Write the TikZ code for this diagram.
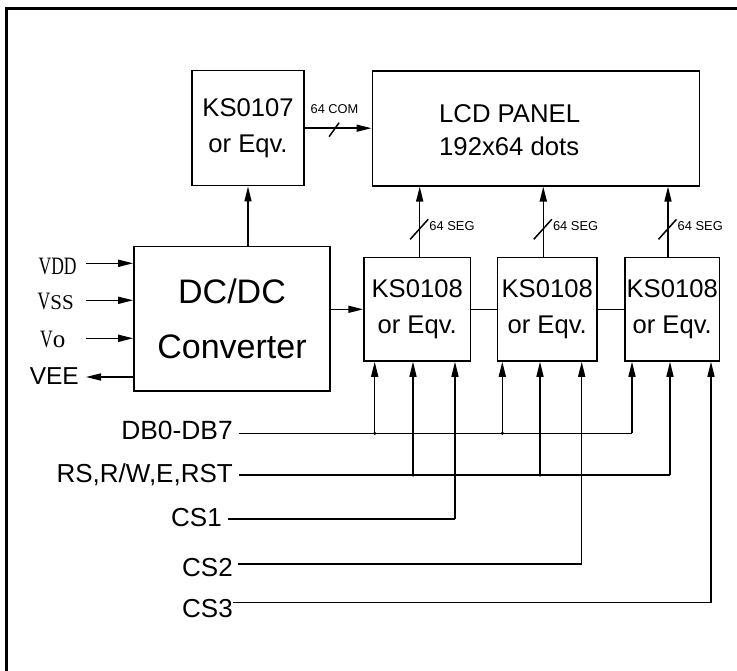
\documentclass[tikz,border=0pt]{standalone}
\usepackage{fontspec}
\setmainfont{Liberation Sans}
\newfontfamily\simfont[FakeStretch=0.7]{Liberation Serif}
\newfontfamily\sernorm{Liberation Serif}
\usetikzlibrary{arrows.meta,calc}
\newcommand\myfs[2]{\fontsize{#1}{#2}\selectfont}
\begin{document}
\begin{tikzpicture}[x=1pt,y=-1pt,
  blk/.style={draw,line width=1.6pt,inner sep=0pt,align=center},
  con/.style={line width=1.5pt},
  arr/.style={line width=1.5pt,-{Triangle[length=15pt,width=7pt]}},
  lbl/.style={inner sep=0pt},
  dot/.style={circle,fill,inner sep=0pt,minimum size=3.5pt}]
\useasboundingbox (0,0) rectangle (737,671);
\begin{scope}
\clip (0,0) rectangle (737,671);
\draw[line width=3pt] (6,8.3) rectangle (800,720);
\end{scope}
% boxes
\node[blk,minimum width=112pt,minimum height=115pt,font=\myfs{25.6}{36}] (k7) at (248,128.2) {KS0107\\or Eqv.};
\node[blk,minimum width=327pt,minimum height=114.7pt] (lcd) at (535.8,128.4) {};
\node[lbl,anchor=west,align=left,font=\myfs{25.7}{33}] (lcdt) at (439,130) {LCD PANEL\\192x64 dots};
\node[blk,minimum width=196pt,minimum height=144pt,font=\myfs{34}{55}] (dc) at (232,318.7) {DC/DC\\Converter};
\node[blk,minimum width=106.3pt,minimum height=103.3pt,font=\myfs{25.6}{36}] (k1) at (417.2,309.3) {KS0108\\or Eqv.};
\node[blk,minimum width=99.7pt,minimum height=103.3pt,font=\myfs{25.6}{36}] (k2) at (547.2,309.3) {KS0108\\or Eqv.};
\node[blk,minimum width=94.3pt,minimum height=103.3pt,font=\myfs{25.6}{36}] (k3) at (672.2,309.3) {KS0108\\or Eqv.};
% KS0107 -> LCD
\draw[arr] (k7.east) -- (k7.east -| lcd.west);
\draw[con] ($(k7.east)+(24.3,8.5)$) -- ++(10,-14);
\node[lbl,font=\myfs{12.8}{14}] (com) at (334.5,109) {64 COM};
% DC/DC -> KS0107, KS0108
\draw[arr] (dc.north -| k7.south) -- (k7.south);
\draw[arr] (k1.west -| dc.east) -- (k1.west);
\draw[con] (k1.east) -- (k2.west);
\draw[con] (k2.east) -- (k3.west);
% SEG
\foreach \n/\x in {1/419.7,2/543.3,3/668}{
  \coordinate (s\n) at (\x,257.7);
  \draw[arr] (s\n |- k\n.north) -- (s\n |- lcd.south);
  \draw[con] ($(s\n)+(-9.5,-18.4)$) -- ++(18,-20);
  \node[lbl,anchor=west,font=\myfs{12.9}{14}] (seg\n) at (\x+9.5,225.7) {64 SEG};
}
% power inputs
\coordinate (ivdd) at (86,263.3);
\coordinate (ivss) at (86,300.3);
\coordinate (ivo) at (86,338.3);
\coordinate (ivee) at (86,377);
\draw[arr] (ivdd) -- (ivdd -| dc.west);
\draw[arr] (ivss) -- (ivss -| dc.west);
\draw[arr] (ivo) -- (ivo -| dc.west);
\draw[arr] (ivee -| dc.west) -- (ivee);
\node[lbl,anchor=base west] (lvdd) at (38.5,275) {\simfont\myfs{25}{25}VDD};
\node[lbl,anchor=base west] (lvss) at (37.5,309.5) {\simfont\myfs{25}{25}V\sernorm\myfs{21}{21}SS};
\node[lbl,anchor=base west] (lvo) at (40,348) {\simfont\myfs{25}{25}V\sernorm\myfs{25}{25}o};
\node[lbl,anchor=base east,font=\myfs{24.5}{25}] (lvee) at (79,384.5) {VEE};
% bus labels
\node[lbl,anchor=base east,font=\myfs{26.4}{27}] (ldb) at (233,439.5) {DB0-DB7};
\node[lbl,anchor=base east,font=\myfs{26}{27}] (lrs) at (233,482.6) {RS,R/W,E,RST};
\node[lbl,anchor=base east,font=\myfs{26}{27}] (lc1) at (222,526) {CS1};
\node[lbl,anchor=base east,font=\myfs{26}{27}] (lc2) at (233,576) {CS2};
\node[lbl,anchor=base east,font=\myfs{26}{27}] (lc3) at (233,617) {CS3};
% bus coordinates
\coordinate (bdb) at (239,433.3);
\coordinate (brs) at (239,475);
\coordinate (bc1) at (228,519);
\coordinate (bc2) at (237.7,564);
\coordinate (bc3) at (233,602.7);
\coordinate (p11) at (374.7,433.3);
\coordinate (p21) at (502.3,433.3);
\coordinate (p31) at (632,433.3);
\coordinate (p12) at (413,475);
\coordinate (p22) at (540,475);
\coordinate (p32) at (670,475);
\coordinate (p13) at (455,519);
\coordinate (p23) at (581.7,564);
\coordinate (p33) at (711,602.7);
\draw[con] (bdb) -- (p31);
\draw[con] (brs) -- (p32);
\draw[con] (bc1) -- (p13);
\draw[con] (bc2) -- (p23);
\draw[con] (bc3) -- (p33);
\foreach \p/\k in {p11/k1,p12/k1,p13/k1,p21/k2,p22/k2,p23/k2,p31/k3,p32/k3,p33/k3}{
  \draw[arr] (\p) -- (\p |- \k.south);
}
\node[dot] (d11) at (p11) {};
\node[dot] (d21) at (p21) {};
\node[dot] (d12) at (p12) {};
\node[dot] (d22) at (p22) {};
\end{tikzpicture}
\end{document}
